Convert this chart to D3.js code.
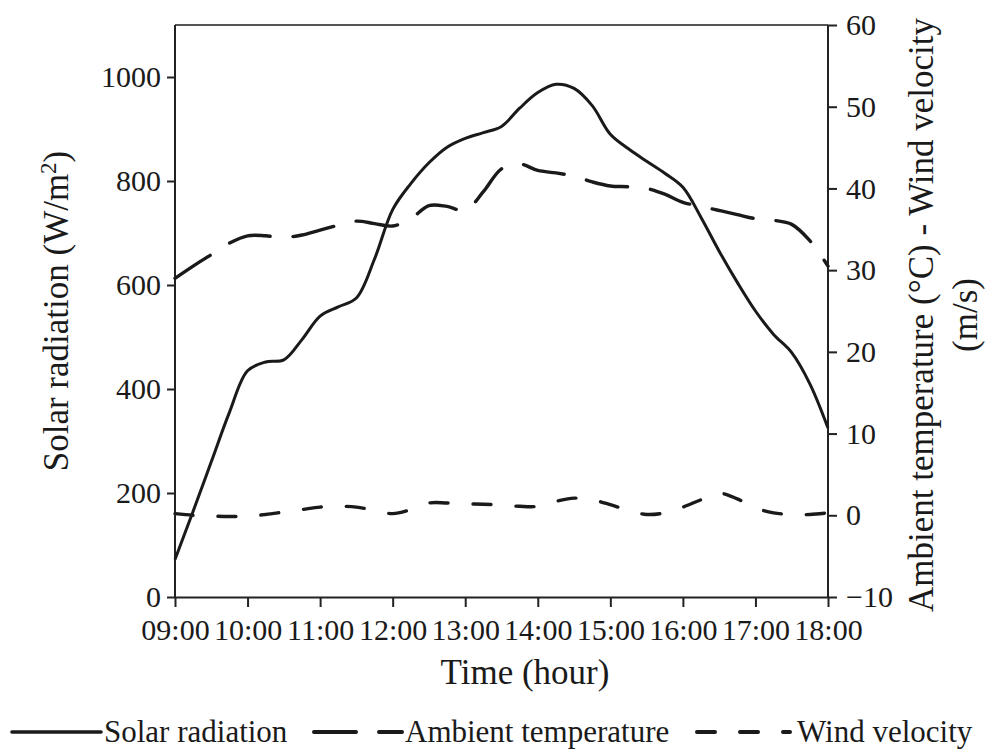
<!DOCTYPE html>
<html>
<head>
<meta charset="utf-8">
<script src="https://cdn.jsdelivr.net/npm/d3@7"></script>
<style>
  html, body { margin: 0; padding: 0; background: #fff; }
  svg { display: block; }
  text { font-family: "Liberation Serif", "Times New Roman", serif; fill: #1a1a1a; }
</style>
</head>
<body>
<svg id="chart" width="991" height="751"></svg>
<script>
// ---- data ----
const times = ["09:00","09:15","09:30","09:45","10:00","10:15","10:30","10:45","11:00","11:15","11:30","11:45",
  "12:00","12:15","12:30","12:45","13:00","13:15","13:30","13:45","14:00","14:15","14:30","14:45",
  "15:00","15:15","15:30","15:45","16:00","16:15","16:30","16:45","17:00","17:15","17:30","17:45","18:00"];
const solarRadiation = [72,165,260,355,435,452,456,495,540,558,575,650,745,795,835,865,882,893,905,940,970,986,978,945,
  890,862,838,815,788,730,665,605,550,505,470,410,325];
const ambientTemperature = [29.0,30.5,31.9,33.3,34.2,34.2,34.0,34.3,34.9,35.5,36.0,35.7,35.4,36.3,37.9,37.8,37.3,39.6,42.4,43.0,
  42.2,41.9,41.5,40.8,40.3,40.2,40.0,39.3,38.3,37.8,37.3,36.8,36.3,36.1,35.6,33.6,30.5];
const windVelocity = [0.2,0.0,-0.1,-0.15,-0.1,0.1,0.4,0.7,1.0,1.1,1.0,0.6,0.2,0.7,1.5,1.5,1.4,1.35,1.25,1.1,1.1,1.7,2.1,1.9,
  1.3,0.6,0.1,0.3,1.0,1.9,2.7,2.0,0.9,0.3,0.1,0.1,0.3];
const hourTicks = ["09:00","10:00","11:00","12:00","13:00","14:00","15:00","16:00","17:00","18:00"];
const leftTicks = [0,200,400,600,800,1000];
const rightTicks = [-10,0,10,20,30,40,50,60];
const seriesNames = ["Solar radiation","Ambient temperature","Wind velocity"];

// ---- layout ----
const svg = d3.select("#chart");
const L = 175, R = 828, T = 25, B = 597;
const toHours = s => { const [h, m] = s.split(":").map(Number); return h + m / 60; };

const x = d3.scaleLinear().domain([9, 18]).range([L, R]);
const yL = d3.scaleLinear().domain([0, 1100]).range([B, T]);
const yR = d3.scaleLinear().domain([-10, 60]).range([B, T]);

const tickFont = 30;
const axisColor = "#222";

// top border
svg.append("line").attr("x1", L).attr("x2", R).attr("y1", T).attr("y2", T)
  .attr("stroke", "#555").attr("stroke-width", 2);

// x axis
const gx = svg.append("g").attr("transform", `translate(0,${B})`)
  .call(d3.axisBottom(x).tickValues(hourTicks.map(toHours))
    .tickFormat((d, i) => hourTicks[i]).tickSize(10).tickSizeOuter(0).tickPadding(12));
// left axis
const gl = svg.append("g").attr("transform", `translate(${L},0)`)
  .call(d3.axisLeft(yL).tickValues(leftTicks).tickFormat(d3.format("d"))
    .tickSize(8).tickSizeOuter(0).tickPadding(6));
// right axis
const gr = svg.append("g").attr("transform", `translate(${R},0)`)
  .call(d3.axisRight(yR).tickValues(rightTicks).tickFormat(d3.format("d"))
    .tickSize(9).tickSizeOuter(0).tickPadding(9));

[gx, gl, gr].forEach(g => {
  g.select(".domain").attr("stroke", axisColor).attr("stroke-width", 2);
  g.selectAll(".tick line").attr("stroke", axisColor).attr("stroke-width", 2);
  g.selectAll(".tick text").style("font-family", '"Liberation Serif", "Times New Roman", serif')
    .style("font-size", tickFont + "px").attr("fill", "#1a1a1a");
});
gl.select(".domain").attr("d", `M0,${T}V${B}`);
gr.select(".domain").attr("d", `M0,${T}V${B}`);

// axis titles
const titleFont = 35;
svg.append("text").attr("x", 525).attr("y", 684).attr("text-anchor", "middle")
  .style("font-size", titleFont + "px").text("Time (hour)");

const lt = svg.append("text").attr("transform", `translate(68,${(T + B) / 2}) rotate(-90)`)
  .attr("text-anchor", "middle").style("font-size", titleFont + "px");
lt.append("tspan").text("Solar radiation (W/m");
lt.append("tspan").attr("dy", -12).style("font-size", "23px").text("2");
lt.append("tspan").attr("dy", 12).text(")");

const rt = svg.append("text").attr("transform", `translate(933,${(T + B) / 2 + 4}) rotate(-90)`)
  .attr("text-anchor", "middle").style("font-size", titleFont + "px");
rt.append("tspan").attr("x", 0).attr("dy", 0).text("Ambient temperature (°C) - Wind velocity");
rt.append("tspan").attr("x", 0).attr("dy", 44).text("(m/s)");

// ---- series ----
const hrs = times.map(toHours);
const curve = d3.curveCatmullRom.alpha(0.5);
const styles = [
  { data: solarRadiation, y: yL, dash: null, w: 3 },
  { data: ambientTemperature, y: yR, dash: "42,23", w: 3.4 },
  { data: windVelocity, y: yR, dash: "18,25", w: 3.4 }
];
styles.forEach(s => {
  const line = d3.line().x((d, i) => x(hrs[i])).y(d => s.y(d)).curve(curve);
  svg.append("path").datum(s.data).attr("d", line)
    .attr("fill", "none").attr("stroke", "#1a1a1a").attr("stroke-width", s.w)
    .attr("stroke-linecap", s.dash ? "round" : "butt")
    .attr("stroke-dasharray", s.dash);
});

// ---- legend ----
const legendY = 732;
const legendItems = [
  { x1: 12, x2: 101, tx: 104 },
  { x1: 312, x2: 402, tx: 405 },
  { x1: 695, x2: 790, tx: 797 }
];
legendItems.forEach((it, i) => {
  const s = styles[i];
  svg.append("line").attr("x1", it.x1 + (s.dash ? 2 : 0)).attr("x2", it.x2).attr("y1", legendY).attr("y2", legendY)
    .attr("stroke", "#1a1a1a").attr("stroke-width", s.w + 0.6)
    .attr("stroke-linecap", "round")
    .attr("stroke-dasharray", s.dash);
  svg.append("text").attr("x", it.tx).attr("y", 742).style("font-size", "31px").text(seriesNames[i]);
});
</script>
</body>
</html>
